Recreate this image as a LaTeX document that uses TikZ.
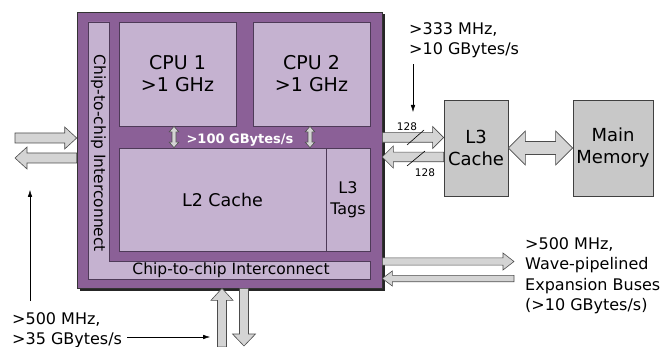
\documentclass[tikz,border=0pt]{standalone}
\usepackage{fontspec}
\setmainfont{DejaVu Sans}
\usetikzlibrary{calc, arrows.meta, shadows}
\definecolor{chipPurple}{RGB}{139,96,151}
\definecolor{coreLilac}{RGB}{197,178,208}
\definecolor{edgePurple}{RGB}{78,58,88}
\definecolor{boxGray}{RGB}{200,200,200}
\definecolor{busGray}{RGB}{212,212,212}
\definecolor{busEdge}{gray}{0.3}

% fat bus arrow: half shaft, half head, head length, from, to
\newcommand{\busarrow}[5]{%
  \coordinate (bh) at ($(#5)!#3!(#4)$);
  \filldraw[bus] ($(#4)!#1!90:(#5)$) -- ($(bh)!#1!90:(#5)$) -- ($(bh)!#2!90:(#5)$) -- (#5)
    -- ($(bh)!#2!-90:(#5)$) -- ($(bh)!#1!-90:(#5)$) -- ($(#4)!#1!-90:(#5)$) -- cycle;
}
% same, with a head at both ends
\newcommand{\dualbus}[5]{%
  \coordinate (bh1) at ($(#4)!#3!(#5)$);
  \coordinate (bh2) at ($(#5)!#3!(#4)$);
  \filldraw[bus] (#4) -- ($(bh1)!#2!90:(#5)$) -- ($(bh1)!#1!90:(#5)$) -- ($(bh2)!#1!90:(#5)$)
    -- ($(bh2)!#2!90:(#5)$) -- (#5) -- ($(bh2)!#2!-90:(#5)$) -- ($(bh2)!#1!-90:(#5)$)
    -- ($(bh1)!#1!-90:(#5)$) -- ($(bh1)!#2!-90:(#5)$) -- cycle;
}

\tikzset{
  core/.style={draw=edgePurple, fill=coreLilac, line width=0.7pt, inner sep=0pt, align=center,
    font=\fontsize{19}{22}\selectfont},
  membox/.style={draw=black!75, fill=boxGray, line width=0.7pt, inner sep=0pt, align=center,
    font=\fontsize{18}{22}\selectfont},
  bus/.style={fill=busGray, draw=busEdge, line width=0.6pt},
  note/.style={align=left, anchor=north west, inner sep=0pt, font=\fontsize{16}{20.5}\selectfont},
  width128/.style={inner sep=0pt, font=\fontsize{10.5}{12}\selectfont},
}

\begin{document}
\begin{tikzpicture}[x=1pt, y=-1pt, >={Latex[length=7pt,width=4.5pt]}]
    \useasboundingbox (0,0) rectangle (666,347);

    % the chip
    \node[draw=black!80, fill=chipPurple, line width=0.6pt, minimum width=305pt, minimum height=276pt,
      drop shadow={shadow xshift=2.5pt, shadow yshift=-2.5pt, opacity=1, fill=black!85}]
      (chip) at (229.5,150) {};
    \filldraw[fill=coreLilac, draw=edgePurple, line width=0.7pt]
      (88,22) -- (109,22) -- (109,261) -- (370,261) -- (370,279) -- (88,279) -- cycle;
    \node[rotate=-90, inner sep=0pt, font=\fontsize{15.5}{16}\selectfont] (icv) at (98.5,153.5) {Chip-to-chip Interconnect};
    \node[inner sep=0pt, font=\fontsize{15.5}{16}\selectfont] (ich) at (231,270) {Chip-to-chip Interconnect};

    \node[core, minimum width=117pt, minimum height=104pt] (cpu1) at (177.5,74) {CPU 1\\>1 GHz};
    \node[core, minimum width=117pt, minimum height=104pt] (cpu2) at (311.5,74) {CPU 2\\>1 GHz};
    \node[core, minimum width=207pt, minimum height=103pt, font=\fontsize{17.5}{21}\selectfont] (l2) at (222.5,199.5) {L2 Cache};
    \node[core, minimum width=44pt, minimum height=103pt, font=\fontsize{16}{21}\selectfont] (tags) at (348,199.5) {L3\\Tags};

    % core to cache
    \dualbus{2pt}{4.8pt}{5.5pt}{cpu1.south -| 174,0}{l2.north -| 174,0}
    \dualbus{2pt}{4.8pt}{5.5pt}{cpu2.south -| 310,0}{l2.north -| 310,0}
    \node[text=white, inner sep=0pt, font=\fontsize{13}{14}\bfseries] (bw) at (240,140) {>100 GBytes/s};

    % off-chip memory
    \node[membox, minimum width=64pt, minimum height=96pt] (l3) at (476,148) {L3\\Cache};
    \node[membox, minimum width=80pt, minimum height=96pt] (mem) at (613,148) {Main\\Memory};

    \busarrow{4.8pt}{11pt}{11pt}{chip.east |- 0,137.5}{l3.west |- 0,137.5}
    \busarrow{4.8pt}{11pt}{11pt}{l3.west |- 0,157}{chip.east |- 0,157}
    \dualbus{6.5pt}{17pt}{17pt}{l3.east}{mem.west}
    \draw[line width=0.6pt] (407,145) -- (424,130);
    \draw[line width=0.6pt] (407,166) -- (425,151);
    \node[width128] (w128a) at (407,127) {128};
    \node[width128] (w128b) at (425,173) {128};

    % chip-to-chip links
    \coordinate (inL) at (15,138);
    \coordinate (outL) at (15,158);
    \busarrow{5pt}{11pt}{12pt}{inL}{chip.west |- inL}
    \busarrow{5pt}{11pt}{12pt}{chip.west |- outL}{outL}
    \coordinate (busUp) at (222,347);
    \coordinate (busDown) at (244,346);
    \busarrow{4.5pt}{11pt}{12pt}{busUp}{chip.south -| busUp}
    \busarrow{4.5pt}{11.5pt}{12pt}{chip.south -| busDown}{busDown}

    % expansion buses
    \coordinate (expOut) at (514,261.5);
    \coordinate (expIn) at (514,278.5);
    \busarrow{3.6pt}{8.5pt}{11pt}{chip.east |- expOut}{expOut}
    \busarrow{3.2pt}{7.5pt}{10pt}{expIn}{chip.east |- expIn}

    % notes
    \node[note] (note333) at (409,22) {>333 MHz,\\>10 GBytes/s};
    \node[note] (note500) at (12,312) {>500 MHz,\\>35 GBytes/s};
    \node[note] (noteExp) at (525,237) {>500 MHz,\\Wave-pipelined\\Expansion Buses\\(>10 GBytes/s)};

    \coordinate (tap333) at (413,112);
    \coordinate (tapL) at (30,190);
    \coordinate (tapB) at (210,337);
    \draw[->] (note333.south -| tap333) ++(0,6) -- (tap333);
    \draw[->] (note500.north -| tapL) ++(0,-11) -- (tapL);
    \draw[->] (note500.east |- tapB) ++(5,0) -- (tapB);
\end{tikzpicture}
\end{document}
